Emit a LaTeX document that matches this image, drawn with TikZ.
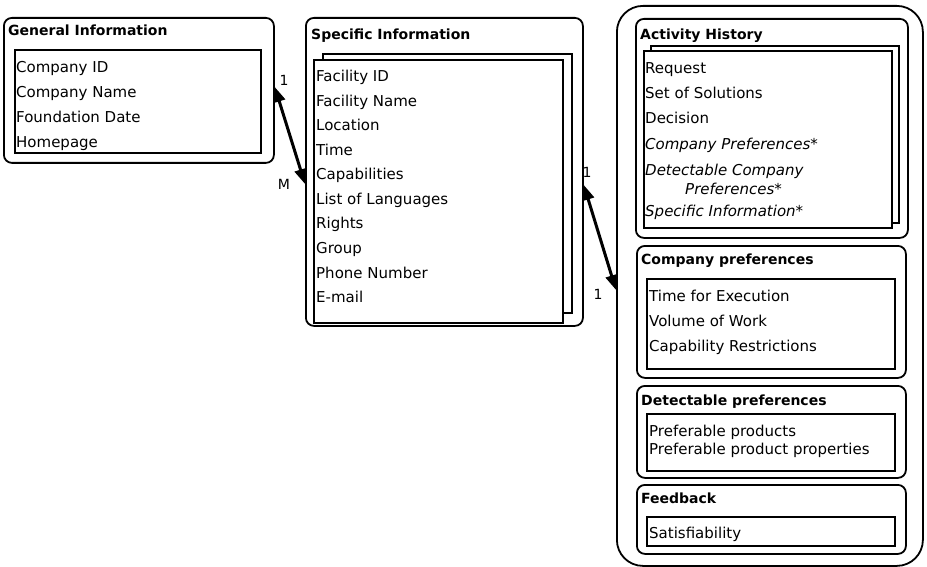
\documentclass[tikz,border=0pt]{standalone}
\usepackage{fontspec}
\setmainfont{DejaVu Sans}
\usetikzlibrary{arrows.meta}
\begin{document}
\begin{tikzpicture}[x=1pt,y=-1pt,
  roundbox/.style={draw, line width=1.8pt, rounded corners=8pt, inner sep=0pt, anchor=north west},
  bigbox/.style={roundbox, rounded corners=26pt},
  listbox/.style={draw, line width=1.8pt, inner sep=0pt, anchor=north west, fill=white},
  heading/.style={anchor=base west, inner sep=0pt, font=\fontsize{14}{16}\selectfont\bfseries},
  entry/.style={anchor=base west, inner sep=0pt, font=\fontsize{15}{17}\selectfont},
  ientry/.style={entry, font=\fontsize{15}{17}\selectfont\itshape},
  card/.style={font=\fontsize{14}{16}\selectfont, inner sep=0pt},
  link/.style={line width=3pt, {Triangle[length=15pt,width=12pt]}-{Triangle[length=15pt,width=12pt]}}
]
\path[use as bounding box] (0,0) rectangle (927,567);

% ---- General Information ----
\node[roundbox, minimum width=270, minimum height=145] (gen) at (3,17) {};
\node[heading] (genT) at (8,36) {General Information};
\node[listbox, minimum width=246, minimum height=103] (genL) at (14,49) {};
\node[entry] (g1) at (16,73) {Company ID};
\node[entry] (g2) at (16,98) {Company Name};
\node[entry] (g3) at (16,123) {Foundation Date};
\node[entry] (g4) at (16,148) {Homepage};

% ---- Specific Information ----
\node[roundbox, minimum width=277, minimum height=308] (spec) at (305,17) {};
\node[heading] (specT) at (311,40) {Specific Information};
\node[listbox, minimum width=249, minimum height=259] (specB) at (322,53) {};
\node[listbox, minimum width=249, minimum height=263] (specL) at (313,59) {};
\node[entry] (s1) at (316,82) {Facility ID};
\node[entry] (s2) at (316,106.5) {Facility Name};
\node[entry] (s3) at (316,131) {Location};
\node[entry] (s4) at (316,155.5) {Time};
\node[entry] (s5) at (316,180) {Capabilities};
\node[entry] (s6) at (316,204.5) {List of Languages};
\node[entry] (s7) at (316,229) {Rights};
\node[entry] (s8) at (316,253.5) {Group};
\node[entry] (s9) at (316,278) {Phone Number};
\node[entry] (s10) at (316,302.5) {E-mail};

% ---- Right-hand container ----
\node[bigbox, minimum width=306, minimum height=560] (hist) at (616,5) {};

% Activity History
\node[roundbox, minimum width=272, minimum height=219] (act) at (635,18) {};
\node[heading] (actT) at (640,40) {Activity History};
\node[listbox, minimum width=248, minimum height=177] (actB) at (650,45) {};
\node[listbox, minimum width=248, minimum height=177] (actL) at (643,50) {};
\node[entry] (a1) at (645,74) {Request};
\node[entry] (a2) at (645,99) {Set of Solutions};
\node[entry] (a3) at (645,124) {Decision};
\node[ientry] (a4) at (645,150) {Company Preferences*};
\node[ientry] (a5) at (645,176) {Detectable Company};
\node[ientry] (a5b) at (685,195) {Preferences*};
\node[ientry] (a6) at (645,217) {Specific Information*};

% Company preferences
\node[roundbox, minimum width=269, minimum height=132] (cp) at (636,245) {};
\node[heading] (cpT) at (641,264) {Company preferences};
\node[listbox, minimum width=248, minimum height=90] (cpL) at (646,278) {};
\node[entry] (c1) at (649,301) {Time for Execution};
\node[entry] (c2) at (649,326) {Volume of Work};
\node[entry] (c3) at (649,351) {Capability Restrictions};

% Detectable preferences
\node[roundbox, minimum width=269, minimum height=92] (dp) at (636,385) {};
\node[heading] (dpT) at (641,405) {Detectable preferences};
\node[listbox, minimum width=248, minimum height=57] (dpL) at (646,413) {};
\node[entry] (d1) at (649,436) {Preferable products};
\node[entry] (d2) at (649,454) {Preferable product properties};

% Feedback
\node[roundbox, minimum width=269, minimum height=69] (fb) at (636,484) {};
\node[heading] (fbT) at (641,503) {Feedback};
\node[listbox, minimum width=248, minimum height=29] (fbL) at (646,516) {};
\node[entry] (f1) at (649,538) {Satisfiability};

% ---- Relationships ----
\coordinate (e1a) at ([yshift=-70pt]gen.north east);
\coordinate (e1b) at ([yshift=-167pt]spec.north west);
\draw[link] (e1a) -- (e1b);
\node[card] at (284,80) {1};
\node[card] at (284,184) {M};

\coordinate (e2a) at ([yshift=-168pt]spec.north east);
\coordinate (e2b) at ([yshift=-285pt]hist.north west);
\draw[link] (e2a) -- (e2b);
\node[card] at (587,172) {1};
\node[card] at (598,294) {1};
\end{tikzpicture}
\end{document}
